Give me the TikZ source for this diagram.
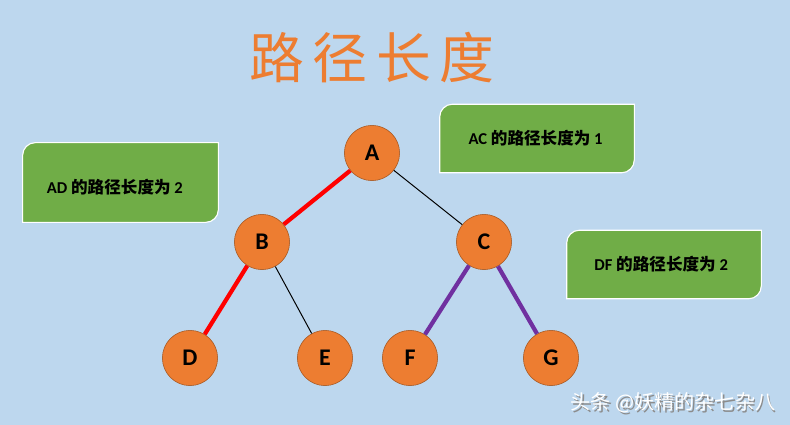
\documentclass[tikz,border=0pt]{standalone}
\usepackage{fontspec}
\setmainfont{Carlito}
\newfontfamily\cjk{Noto Sans CJK SC}
\usepackage{xcolor}
\usetikzlibrary{positioning}
\definecolor{bgblue}{RGB}{189,215,238}
\definecolor{nodeorange}{RGB}{237,125,49}
\definecolor{boxgreen}{RGB}{112,173,71}
\definecolor{pathpurple}{RGB}{112,48,160}
\tikzset{
  vert/.style={circle, draw=nodeorange!70!black, fill=nodeorange, thin, minimum size=1.38cm,
               inner sep=0pt, font=\fontsize{17}{17}\selectfont\bfseries},
  note/.style={minimum width=4.85cm, minimum height=1.7cm, inner sep=0pt,
               font=\fontsize{11.8}{13}\selectfont\bfseries},
  plain/.style={black, line width=0.7pt},
  redpath/.style={red, line width=3pt},
  purplepath/.style={pathpurple, line width=3pt}
}
\begin{document}
\begin{tikzpicture}[x=0.025cm, y=-0.025cm]
  \useasboundingbox[fill=bgblue] (0,0) rectangle (790,425);
  % title
  \node[text=nodeorange, font=\cjk\fontsize{39}{40}\selectfont] (title) at (372,58)
    {路\hspace{6pt}径\hspace{6pt}长\hspace{6pt}度};
  % notes
  \node[note, minimum width=4.88cm, minimum height=1.98cm] (ad) at (120.5,182.5) {};
  \node[note] (ac) at (537,138.5) {};
  \node[note] (df) at (664,264.5) {};
  \foreach \b in {ad,ac,df}
    \draw[white, fill=boxgreen, line width=0.8pt]
      ([yshift=-0.32cm]\b.north west) arc[start angle=180, end angle=90, radius=0.32cm]
      -- (\b.north east) -- ([yshift=0.32cm]\b.south east)
      arc[start angle=0, end angle=-90, radius=0.32cm] -- (\b.south west) -- cycle;
  \node[note] at ([xshift=-4pt, yshift=-3pt]ad.center) {AD {\cjk 的路径长度为} 2};
  \node[note] at ([xshift=-1pt]ac.center) {AC {\cjk 的路径长度为} 1};
  \node[note] at ([xshift=-2pt]df.center) {DF {\cjk 的路径长度为} 2};
  % tree
  \node[vert] (a) at (372,153) {A};
  \node[vert] (b) at (262,242) {B};
  \node[vert] (c) at (484,242) {C};
  \node[vert] (d) at (190,358) {D};
  \node[vert] (e) at (325,358) {E};
  \node[vert] (f) at (410,358) {F};
  \node[vert] (g) at (551,358) {G};
  \draw[redpath] (a) -- (b);
  \draw[redpath] (b) -- (d);
  \draw[plain] (a) -- (c);
  \draw[plain] (b) -- (e);
  \draw[purplepath] (c) -- (f);
  \draw[purplepath] (c) -- (g);
  % watermark
  \node[text=black!45, font=\cjk\fontsize{14.3}{15}\selectfont] at (674.7,404.7) {头条 @妖精的杂七杂八};
  \node[text=white, font=\cjk\fontsize{14.3}{15}\selectfont] (mark) at (673,403) {头条 @妖精的杂七杂八};
\end{tikzpicture}
\end{document}
